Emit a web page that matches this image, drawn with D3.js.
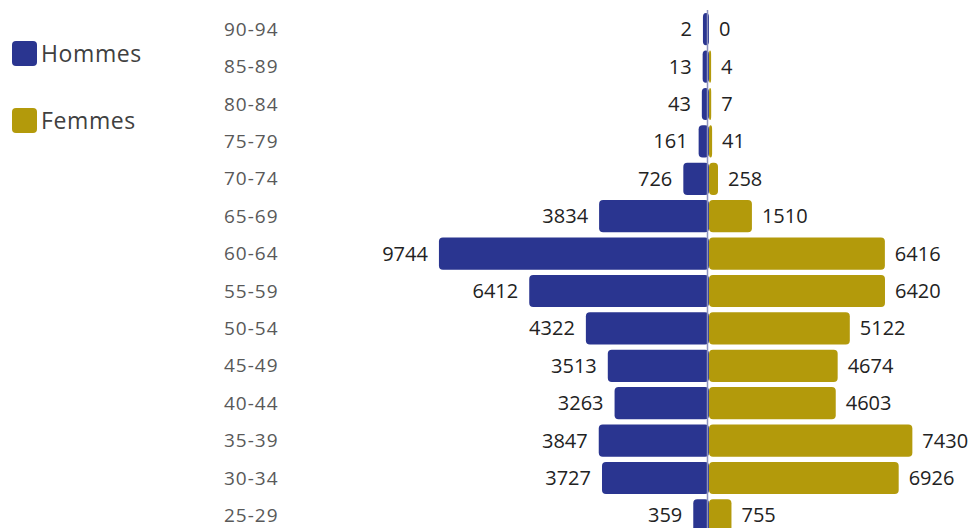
<!DOCTYPE html>
<html>
<head>
<meta charset="utf-8">
<script src="https://cdn.jsdelivr.net/npm/d3@7"></script>
<style>
  html, body { margin: 0; padding: 0; background: #ffffff; }
  svg { display: block; }
</style>
</head>
<body>
<div id="chart"></div>
<script>
// Age groups, top to bottom
const ageGroups = ["90-94", "85-89", "80-84", "75-79", "70-74", "65-69", "60-64",
                   "55-59", "50-54", "45-49", "40-44", "35-39", "30-34", "25-29"];
const hommes = [2, 13, 43, 161, 726, 3834, 9744, 6412, 4322, 3513, 3263, 3847, 3727, 359];
const femmes = [0, 4, 7, 41, 258, 1510, 6416, 6420, 5122, 4674, 4603, 7430, 6926, 755];
const seriesNames = ["Hommes", "Femmes"];
const seriesColors = ["#2a3590", "#b39a0b"];

const width = 968, height = 528;
const centerX = 707;

const svg = d3.select("#chart").append("svg")
  .attr("width", width).attr("height", height);

const font = "'Open Sans', 'Liberation Sans', sans-serif";

// Vertical bands for age groups
const y = d3.scaleBand()
  .domain(ageGroups)
  .range([10.5, 10.5 + ageGroups.length * 37.4])
  .paddingInner(0.14)
  .paddingOuter(0.07);

// Bar length: small values keep a visible minimum stub
const len = d3.scaleLinear().domain([0, 10000]).range([6, 277]);

const rows = ageGroups.map((g, i) => ({ g, h: hommes[i], f: femmes[i] }));

// Age labels
svg.append("g").selectAll("text").data(rows).join("text")
  .attr("x", 224)
  .attr("y", d => y(d.g) + y.bandwidth() / 2)
  .attr("dy", "0.35em")
  .attr("font-family", font)
  .attr("font-size", 19)
  .attr("letter-spacing", 1)
  .attr("fill", "#595959")
  .text(d => d.g);

// Men bars (left)
svg.append("g").selectAll("rect").data(rows).join("rect")
  .attr("x", d => centerX + 2 - len(d.h))
  .attr("y", d => y(d.g))
  .attr("width", d => len(d.h))
  .attr("height", y.bandwidth())
  .attr("rx", 4)
  .attr("fill", seriesColors[0]);

// Women bars (right); an empty value draws nothing
svg.append("g").selectAll("rect").data(rows.filter(d => d.f > 0)).join("rect")
  .attr("x", centerX + 2)
  .attr("y", d => y(d.g))
  .attr("width", d => len(d.f) - 4)
  .attr("height", y.bandwidth())
  .attr("rx", 4)
  .attr("fill", seriesColors[1]);

// Centre axis line
svg.append("line")
  .attr("x1", centerX + 0.5).attr("x2", centerX + 0.5)
  .attr("y1", 10).attr("y2", height)
  .attr("stroke", "#8d92bd")
  .attr("stroke-width", 1.5);

// Value labels
svg.append("g").selectAll("text").data(rows).join("text")
  .attr("x", d => centerX + 2 - len(d.h) - 11)
  .attr("y", d => y(d.g) + y.bandwidth() / 2)
  .attr("dy", "0.35em")
  .attr("text-anchor", "end")
  .attr("font-family", font)
  .attr("font-size", 20)
  .attr("fill", "#222222")
  .text(d => d.h);

svg.append("g").selectAll("text").data(rows).join("text")
  .attr("x", d => (d.f > 0 ? centerX + 2 + len(d.f) - 4 : centerX + 2) + 10)
  .attr("y", d => y(d.g) + y.bandwidth() / 2)
  .attr("dy", "0.35em")
  .attr("font-family", font)
  .attr("font-size", 20)
  .attr("fill", "#222222")
  .text(d => d.f);

// Legend
const legend = svg.append("g").selectAll("g").data(seriesNames).join("g")
  .attr("transform", (d, i) => `translate(12, ${41 + i * 67})`);
legend.append("rect")
  .attr("width", 25).attr("height", 25).attr("rx", 4)
  .attr("fill", (d, i) => seriesColors[i]);
legend.append("text")
  .attr("x", 29).attr("y", 12.5).attr("dy", "0.35em")
  .attr("font-family", font)
  .attr("font-size", 23)
  .attr("letter-spacing", 0.6)
  .attr("fill", "#404040")
  .text(d => d);
</script>
</body>
</html>
